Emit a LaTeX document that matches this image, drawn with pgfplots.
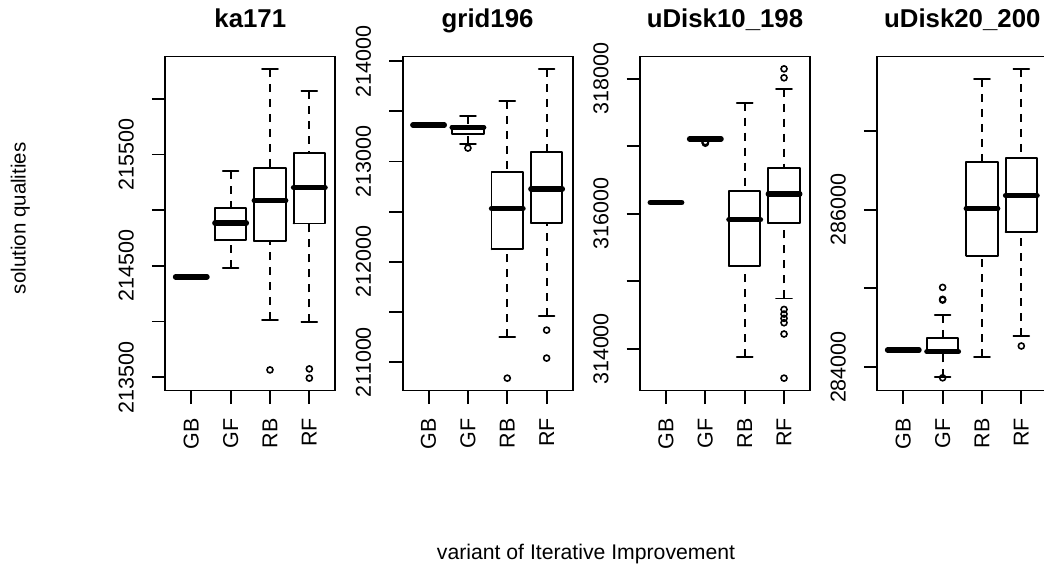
\documentclass[border=0pt]{standalone}
\usepackage{fontspec}
\setmainfont{Liberation Sans}
\usepackage{pgfplots}
\pgfplotsset{compat=1.18}

\newcommand\tickfont{\fontsize{21.5}{25}\selectfont}
\newcommand\titlefont{\fontsize{25.8}{30}\selectfont\bfseries}
\newcommand\ylabfont{\fontsize{20.5}{24}\selectfont}
\newcommand\xlabfont{\fontsize{21.2}{24}\selectfont}

\tikzset{
  rline/.style={line width=1.9pt, black, solid, line cap=round, line join=round},
  rwhisker/.style={line width=1.9pt, black, dash pattern=on 8pt off 7pt},
  rmedian/.style={line width=5.4pt, black, solid, line cap=round},
}

% One R-style box: position, lower whisker, lower quartile, median,
% upper quartile, upper whisker (box width 0.8, staple width 0.4)
\newcommand\rbox[6]{%
  \pgfmathsetmacro\bxl{#1-0.4}\pgfmathsetmacro\bxr{#1+0.4}%
  \pgfmathsetmacro\stl{#1-0.2}\pgfmathsetmacro\str{#1+0.2}%
  \edef\rboxdo{%
    \noexpand\addplot[rwhisker] coordinates {(#1,#2) (#1,#3)};
    \noexpand\addplot[rwhisker] coordinates {(#1,#6) (#1,#5)};
    \noexpand\addplot[rline] coordinates {(\stl,#2) (\str,#2)};
    \noexpand\addplot[rline] coordinates {(\stl,#6) (\str,#6)};
    \noexpand\addplot[rline] coordinates {(\bxl,#3) (\bxr,#3) (\bxr,#5) (\bxl,#5) (\bxl,#3)};
    \noexpand\addplot[rmedian] coordinates {(\bxl,#4) (\bxr,#4)};
  }\rboxdo
}

\pgfplotsset{
  outl/.style={only marks, mark=o, mark size=3pt, black,
    mark options={line width=1.6pt, solid}},
  panel/.style={
    scale only axis, width=170pt, height=334pt,
    anchor=south west, clip=false,
    xmin=0.34, xmax=4.66,
    xtick={1,2,3,4}, xticklabels={GB,GF,RB,RF},
    tick pos=left, tick align=outside, major tick length=13.5pt,
    every tick/.style={line width=1.9pt, black},
    axis line style={line width=1.9pt, black},
    tick label style={font=\tickfont, inner sep=0pt},
    xticklabel style={rotate=90, anchor=east},
    yticklabel style={rotate=90, anchor=south},
    xticklabel shift=14pt,
    yticklabel shift=17.8pt,
    scaled y ticks=false,
    title style={font=\titlefont, anchor=base, at={(0.5,1)}, yshift=22.7pt},
  },
}

\begin{document}
\begin{tikzpicture}
\path[use as bounding box] (0,0) rectangle (1044pt,563pt);

% ---------------- ka171 ----------------
\begin{axis}[panel, at={(165.3pt,172.5pt)}, title={ka171},
  ymin=213380, ymax=216380,
  ytick={213500,214000,214500,215000,215500,216000},
  yticklabels={213500,,214500,,215500,}]
\rbox{1}{214400}{214400}{214400}{214400}{214400}
\rbox{2}{214482}{214728}{214883}{215023}{215351}
\rbox{3}{214016}{214721}{215086}{215378}{216269}
\rbox{4}{213993}{214880}{215202}{215510}{216068}
\addplot[outl] coordinates {(3,213565) (4,213574) (4,213491)};
\end{axis}

% ---------------- grid196 ----------------
\begin{axis}[panel, at={(402.6pt,172.5pt)}, title={grid196},
  ymin=210717, ymax=214047,
  ytick={211000,211500,212000,212500,213000,213500,214000},
  yticklabels={211000,,212000,,213000,,214000}]
\rbox{1}{213363}{213363}{213363}{213363}{213363}
\rbox{2}{213176}{213276}{213340}{213356}{213456}
\rbox{3}{211249}{212127}{212531}{212894}{213605}
\rbox{4}{211462}{212389}{212725}{213094}{213924}
\addplot[outl] coordinates {(2,213134) (3,210840) (4,211319) (4,211040)};
\end{axis}

% ---------------- uDisk10_198 ----------------
\begin{axis}[panel, at={(640pt,172.5pt)}, title={uDisk10\_198},
  ymin=313385, ymax=318329,
  ytick={314000,315000,316000,317000,318000},
  yticklabels={314000,,316000,,318000}]
\rbox{1}{316167}{316167}{316167}{316167}{316167}
\rbox{2}{317110}{317110}{317110}{317110}{317110}
\rbox{3}{313878}{315234}{315912}{316334}{317645}
\rbox{4}{314747}{315862}{316295}{316672}{317852}
\addplot[outl] coordinates {(2,317056) (2,317066) (2,317046)
  (4,318146) (4,318014) (4,314585) (4,314516) (4,314453) (4,314388)
  (4,314221) (4,313568)};
\end{axis}

% ---------------- uDisk20_200 ----------------
\begin{axis}[panel, at={(877.3pt,172.5pt)}, title={uDisk20\_200},
  ymin=283703, ymax=287943,
  ytick={284000,285000,286000,287000},
  yticklabels={284000,,286000,}]
\rbox{1}{284217}{284217}{284217}{284217}{284217}
\rbox{2}{283870}{284183}{284196}{284374}{284663}
\rbox{3}{284131}{285416}{286012}{286607}{287658}
\rbox{4}{284396}{285714}{286178}{286650}{287786}
\addplot[outl] coordinates {(2,283864) (2,284851) (2,284860) (2,285012)
  (4,284268)};
\end{axis}

% outer axis titles
\node[rotate=90, anchor=base, font=\ylabfont] at (25.5pt,344.7pt) {solution qualities};
\node[anchor=base, font=\xlabfont] at (586pt,3.7pt) {variant of Iterative Improvement};
\end{tikzpicture}
\end{document}
